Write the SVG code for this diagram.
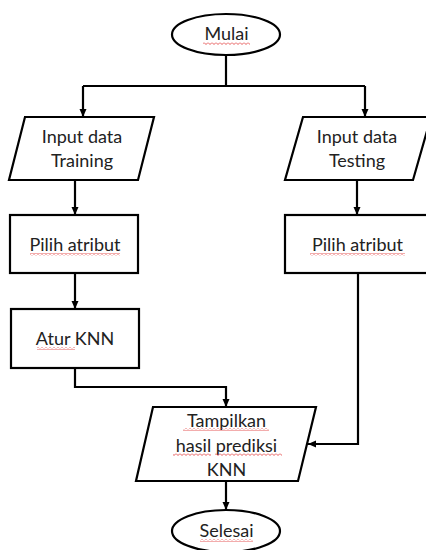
<svg xmlns="http://www.w3.org/2000/svg" width="426" height="550" viewBox="0 0 426 550">
<style>
.shape{fill:#fff;stroke:#000;stroke-width:2.2}
.lbl{font-family:Lato,"Open Sans",sans-serif;font-size:18px;fill:#222;text-anchor:middle}
.conn{fill:none;stroke:#000;stroke-width:2.2}
.wavy{fill:url(#wv)}
</style>
<defs>
<marker id="ah" markerUnits="userSpaceOnUse" markerWidth="8" markerHeight="8" viewBox="0 0 8 8" refX="8" refY="4" orient="auto">
<path d="M0,0.5 L8,4 L0,7.5 Z" fill="#000"/>
</marker>
<pattern id="wv" patternUnits="userSpaceOnUse" width="4" height="3">
<path d="M0,0.5 L2,2.5 L4,0.5" fill="none" stroke="#e03030" stroke-width="0.8"/>
</pattern>
</defs>
<rect width="426" height="550" fill="#fff"/>
<g id="connectors">
<path class="conn" d="M226,55 V86"/>
<path class="conn" d="M83,86 H365"/>
<path class="conn" d="M83,86 V117" marker-end="url(#ah)"/>
<path class="conn" d="M365,86 V117" marker-end="url(#ah)"/>
<path class="conn" d="M75,180 V215" marker-end="url(#ah)"/>
<path class="conn" d="M357,180 V215" marker-end="url(#ah)"/>
<path class="conn" d="M75,273 V309" marker-end="url(#ah)"/>
<path class="conn" d="M75,368 V387 H226 V407" marker-end="url(#ah)"/>
<path class="conn" d="M358,273 V444 H308" marker-end="url(#ah)"/>
<path class="conn" d="M226,481 V510" marker-end="url(#ah)"/>
</g>
<g id="mulai">
<ellipse class="shape" cx="226" cy="34.5" rx="54" ry="20.5"/>
<text class="lbl" x="226.5" y="40">Mulai</text>
<rect class="wavy" x="203" y="42" width="47" height="3"/>
</g>
<g id="input-training">
<polygon class="shape" points="25,117 154,117 138,180 9,180"/>
<text class="lbl" x="82" y="143">Input data</text>
<text class="lbl" x="82" y="167">Training</text>
</g>
<g id="input-testing">
<polygon class="shape" points="303,117 431,117 413,180 285,180"/>
<text class="lbl" x="357" y="143">Input data</text>
<text class="lbl" x="357" y="167">Testing</text>
</g>
<g id="pilih-atribut-1">
<rect class="shape" x="10" y="215" width="128" height="58"/>
<text class="lbl" x="75" y="251">Pilih atribut</text>
<rect class="wavy" x="30" y="253" width="90" height="3"/>
</g>
<g id="pilih-atribut-2">
<rect class="shape" x="285" y="215" width="146" height="58"/>
<text class="lbl" x="357.5" y="251">Pilih atribut</text>
<rect class="wavy" x="310" y="253" width="95" height="3"/>
</g>
<g id="atur-knn">
<rect class="shape" x="11" y="309" width="128" height="59"/>
<text class="lbl" x="75" y="345">Atur KNN</text>
<rect class="wavy" x="37" y="347" width="38" height="3"/>
</g>
<g id="tampilkan">
<polygon class="shape" points="153,407 316,407 298,481 136,481"/>
<text class="lbl" x="226.5" y="427">Tampilkan</text>
<text class="lbl" x="226.5" y="452">hasil prediksi</text>
<text class="lbl" x="226.5" y="476">KNN</text>
<rect class="wavy" x="183" y="428" width="86" height="3"/>
<rect class="wavy" x="173" y="453" width="38" height="3"/>
<rect class="wavy" x="215" y="453" width="67" height="3"/>
</g>
<g id="selesai">
<ellipse class="shape" cx="226" cy="531" rx="54" ry="21"/>
<text class="lbl" x="226.5" y="537">Selesai</text>
<rect class="wavy" x="200" y="539" width="53" height="3"/>
</g>
</svg>
